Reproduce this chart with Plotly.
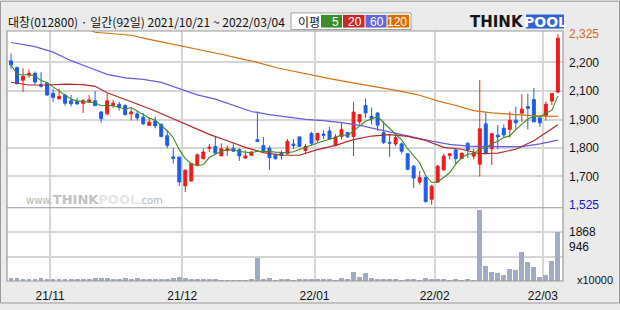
import plotly.graph_objects as go
import pandas as pd

# ---------------- data ----------------
opens = [2199,2168,2108,2132,2141,2088,2095,2047,2021,2039,2012,2008,2000,2007,2012,1960,1951,1990,1996,1990,
         1951,1951,1935,1897,1917,1902,1848,1749,1749,1614,1636,1710,1741,1789,1798,1754,1779,1790,1783,1744,
         1757,1830,1802,1790,1757,1769,1764,1810,1843,1779,1859,1828,1856,1871,1802,1845,1863,1845,1914,1990,
         1939,1955,1863,1817,1810,1810,1764,1706,1631,1653,1551,1631,1688,1756,1782,1741,1813,1753,1715,1904,
         1787,1851,1883,1878,1921,1954,1985,2018,1932,1942,2011,2053]
highs = [2234,2172,2164,2160,2149,2146,2100,2069,2069,2042,2039,2027,2021,2039,2057,1963,2047,2016,2008,1996,
         1978,1966,1955,1932,1937,1905,1871,1791,1749,1690,1722,1765,1790,1810,1843,1813,1802,1813,1790,1779,
         1775,1962,1843,1802,1764,1779,1833,1833,1843,1810,1866,1863,1874,1889,1856,1909,1866,2008,1950,2023,
         1981,1958,1916,1855,1858,1817,1767,1711,1683,1657,1619,1711,1764,1767,1787,1767,1817,1787,2110,1959,
         1858,1898,1901,1962,1985,2043,2046,2072,1935,2008,2049,2325]
lows = [2161,2090,2054,2120,2085,2074,2036,2008,2021,1989,1986,1993,1955,2001,1989,1909,1944,1978,1966,1943,
        1920,1920,1899,1894,1883,1841,1791,1719,1612,1585,1635,1708,1737,1772,1764,1754,1754,1772,1731,1741,
        1754,1821,1776,1688,1737,1737,1761,1787,1795,1764,1802,1818,1833,1833,1799,1830,1840,1754,1901,1932,
        1901,1871,1810,1749,1799,1764,1688,1604,1619,1535,1525,1631,1685,1737,1718,1741,1744,1738,1657,1761,
        1711,1784,1840,1840,1875,1913,1878,1913,1889,1919,1992,2046]
closes = [2181,2092,2126,2141,2100,2080,2039,2028,2033,2001,1998,1998,2012,2016,1989,1928,2012,2001,1981,1948,
          1960,1932,1905,1912,1894,1845,1803,1742,1632,1687,1718,1759,1772,1795,1767,1787,1787,1776,1754,1754,
          1772,1821,1779,1746,1741,1757,1822,1802,1799,1798,1813,1859,1851,1833,1843,1878,1843,1959,1947,1955,
          1929,1898,1817,1814,1840,1776,1691,1650,1653,1540,1612,1706,1753,1764,1741,1767,1782,1768,1881,1764,
          1858,1843,1852,1921,1909,1973,1977,1913,1909,1996,2046,2305]
volumes = [125,120,75,72,78,118,74,70,72,76,70,73,75,72,120,118,122,75,72,115,
           70,118,74,70,72,75,74,120,165,118,74,72,70,74,72,38,36,38,35,37,
           74,867,76,120,38,74,72,38,74,72,75,73,76,72,38,122,74,346,160,309,
           120,74,72,75,73,38,74,72,36,120,74,72,75,38,74,38,72,37,2727,569,
           346,309,249,458,420,1127,718,532,160,249,755,1868]

ma20_idx = [0,3,6,9,12,14,16,18,21,24,27,30,33,36,39,42,45,48,51,54,57,60,63,66,69,72,75,78,81,84,87,89,91]
ma20_val = [2099,2086,2086,2090,2088,2080,2050,2030,1997,1964,1927,1893,1855,1825,1794,1769,1758,1757,1783,1803,
            1830,1847,1854,1845,1826,1794,1785,1764,1767,1785,1825,1862,1900]
ma60_idx = [0,4,7,10,13,16,19,22,25,28,31,34,37,40,43,46,49,52,55,58,61,64,67,70,73,76,79,82,85,88,91]
ma60_val = [2285,2266,2240,2200,2168,2136,2119,2112,2098,2069,2040,2020,1992,1962,1947,1935,1925,1919,1910,1897,
            1878,1860,1840,1823,1808,1800,1797,1797,1797,1810,1828]
ma120_idx = [0,5,10,13,14,17,20,23,26,29,32,35,38,41,44,47,50,53,56,59,62,65,68,71,74,77,80,83,86,89,91]
ma120_val = [2380,2365,2350,2344,2333,2326,2319,2300,2283,2266,2250,2230,2211,2192,2168,2150,2133,2116,2101,2086,
             2073,2056,2038,2012,1990,1966,1955,1948,1944,1940,1939]

month_pos = [6.5, 28.5, 50.5, 70.5, 88.5]
month_labels = ["21/11", "21/12", "22/01", "22/02", "22/03"]
price_grid = [2192, 2060, 1923, 1790, 1658]
price_tick_vals = [2325, 2192, 2060, 1923, 1790, 1658, 1525]
price_tick_text = ["<span style='color:#d2691e'>2,325</span>", "2,200", "2,100", "1,900", "1,800", "1,700",
                   "<span style='color:#1414d2'>1,525</span>"]
vol_grid = [930, 1860]
vol_tick_vals = [1868, 1300]
vol_tick_text = ["1868", "946"]

title_text = "대창(012800) · 일간(92일) 2021/10/21 ~ 2022/03/04"

# ---------------- figure ----------------
x = list(range(len(closes)))
ma5 = pd.Series(closes).rolling(5, min_periods=1).mean().tolist()

RED = "#ee1c1c"
BLUE = "#1e5ee6"
FONT = "Liberation Sans"

fig = go.Figure()
fig.add_trace(go.Candlestick(
    x=x, open=opens, high=highs, low=lows, close=closes,
    increasing=dict(line=dict(color=RED, width=1), fillcolor=RED),
    decreasing=dict(line=dict(color=BLUE, width=1), fillcolor=BLUE),
    whiskerwidth=0, xaxis="x", yaxis="y", hoverinfo="skip"))
fig.add_trace(go.Scatter(x=ma120_idx, y=ma120_val, mode="lines", line=dict(color="#d87010", width=1.2), yaxis="y"))
fig.add_trace(go.Scatter(x=ma60_idx, y=ma60_val, mode="lines", line=dict(color="#6a5ae0", width=1.2), yaxis="y"))
fig.add_trace(go.Scatter(x=ma20_idx, y=ma20_val, mode="lines", line=dict(color="#b42828", width=1.2), yaxis="y"))
fig.add_trace(go.Scatter(x=x, y=ma5, mode="lines", line=dict(color="#3c8c1e", width=1.1), yaxis="y"))
fig.add_trace(go.Bar(x=x, y=volumes, marker=dict(color="#a2abc4", line=dict(width=0)), width=0.8, yaxis="y2"))

# pixel helpers for decorations
PL, PR, PT, PB = 7, 563, 31, 287
def px(xp):
    return (xp - PL) / (PR - PL)
def py(yp):
    return (PB - yp) / (PB - PT)

vol_frac = (PB - 212) / (PB - PT)
GRID = "#d6d6d6"

fig.update_layout(
    width=620, height=310,
    margin=dict(l=PL, r=620 - PR, t=PT, b=310 - PB),
    paper_bgcolor="#ebebeb", plot_bgcolor="#ffffff",
    showlegend=False, bargap=0,
    xaxis=dict(range=[-0.666, 91.85], anchor="y2", tickvals=month_pos, ticktext=month_labels,
               showgrid=True, gridcolor=GRID, gridwidth=1.5, zeroline=False, ticks="",
               tickfont=dict(family=FONT, size=12, color="#111"), rangeslider=dict(visible=False),
               ticklabelstandoff=6),
    yaxis=dict(domain=[vol_frac, 1], range=[1511, 2339], side="right", tickvals=price_tick_vals,
               ticktext=price_tick_text, showgrid=False, zeroline=False, ticks="",
               tickfont=dict(family=FONT, size=12, color="#111"), ticklabelstandoff=5,
               minor=dict(tickvals=price_grid, showgrid=True, gridcolor=GRID, gridwidth=1.5, ticks="")),
    yaxis2=dict(domain=[0, vol_frac], range=[0, 2790], side="right", anchor="x", tickvals=vol_tick_vals,
                ticktext=vol_tick_text, showgrid=False, zeroline=False, ticks="",
                tickfont=dict(family=FONT, size=12, color="#111"), ticklabelstandoff=5,
                minor=dict(tickvals=vol_grid, showgrid=True, gridcolor=GRID, gridwidth=1.5, ticks="")),
)

shapes = [
    # outer frame
    dict(type="rect", xref="paper", yref="paper", x0=px(0.5), x1=px(619.5), y0=py(309.5), y1=py(0.5),
         line=dict(color="#9a9a9a", width=1), layer="above"),
    # plot frame and panel separator
    dict(type="rect", xref="paper", yref="paper", x0=0, x1=1, y0=0, y1=1,
         line=dict(color="#9a9a9a", width=1.2), layer="above"),
    dict(type="line", xref="paper", yref="paper", x0=0, x1=1, y0=vol_frac, y1=vol_frac,
         line=dict(color="#9a9a9a", width=1.2), layer="above"),
    # legend box
    dict(type="rect", xref="paper", yref="paper", x0=px(291), x1=px(411), y0=py(29.5), y1=py(12.5),
         fillcolor="white", line=dict(color="#a0a0a0", width=1)),
    dict(type="rect", xref="paper", yref="paper", x0=px(321), x1=px(342), y0=py(27.5), y1=py(14.5),
         fillcolor="#3c8c28", line=dict(width=0)),
    dict(type="rect", xref="paper", yref="paper", x0=px(343), x1=px(364.5), y0=py(27.5), y1=py(14.5),
         fillcolor="#c82828", line=dict(width=0)),
    dict(type="rect", xref="paper", yref="paper", x0=px(365.5), x1=px(386.5), y0=py(27.5), y1=py(14.5),
         fillcolor="#6464dc", line=dict(width=0)),
    dict(type="rect", xref="paper", yref="paper", x0=px(387.5), x1=px(409), y0=py(27.5), y1=py(14.5),
         fillcolor="#dc6e00", line=dict(width=0)),
    # logo box
    dict(type="rect", xref="paper", yref="paper", x0=px(526), x1=px(564), y0=py(28.5), y1=py(14),
         fillcolor="#2f62d4", line=dict(width=0)),
]
fig.update_layout(shapes=shapes)

def ann(text, xp, yp, xanchor="left", size=12, color="#111", family=FONT, **kw):
    fig.add_annotation(text=text, x=px(xp), y=py(yp), xref="paper", yref="paper", showarrow=False,
                       xanchor=xanchor, yanchor="middle", font=dict(family=family, size=size, color=color), **kw)

ann(title_text, 6, 21, family="Noto Sans CJK KR", size=12, color="#111")
ann("이평", 296, 21, family="Noto Sans CJK KR", size=12)
ann("5", 341, 21.5, xanchor="right", color="white")
ann("20", 364, 21.5, xanchor="right", color="white")
ann("60", 386, 21.5, xanchor="right", color="white")
ann("120", 409, 21.5, xanchor="right", color="white")
ann("<b>THINK</b>", 526, 21.5, xanchor="right", size=15, color="#151515", family="DejaVu Sans")
ann("<b>POOL</b>", 545, 21.5, xanchor="center", size=14, color="white", family="DejaVu Sans")
ann("x10000", 575, 286, size=11)
ann("<span style='font-size:10px;color:#b4b4b4'>www.</span><b>THINK</b><b><span style='color:#e6e6e6'>POOL</span></b>"
    "<span style='font-size:10px;color:#b4b4b4'>.com</span>", 24, 204, size=13, color="#c2c2c2", family="DejaVu Sans")

fig.write_html("out.html")
